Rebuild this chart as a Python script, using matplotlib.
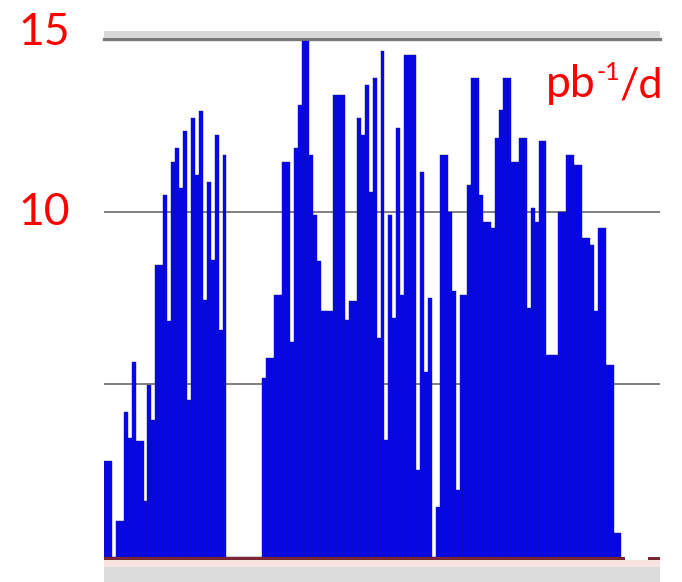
import matplotlib
matplotlib.use("Agg")
import matplotlib.pyplot as plt
from matplotlib.patches import Rectangle
import numpy as np

plt.rcParams['font.family'] = ['Lato', 'DejaVu Sans']

# daily delivered luminosity (pb^-1 per day), one value per day
group1 = [2.78, 2.78, 0, 1.04, 1.04, 4.20, 3.45, 5.65, 3.36, 3.36, 1.62, 4.98,
          3.97, 8.46, 8.46, 10.48, 6.83, 11.44, 11.84, 10.69, 12.34, 4.55,
          12.71, 11.06, 12.92, 7.44, 10.86, 8.60, 12.22, 6.57, 11.64]
pause = [0, 0, 0, 0, 0, 0, 0, 0, 0]
group2 = [5.18, 5.76, 5.76, 7.59, 7.59, 11.44, 11.44, 6.23, 11.84, 13.09,
          14.94, 14.94, 11.64, 9.90, 8.57, 7.12, 7.12, 7.12, 13.38, 13.38,
          13.38, 6.86, 7.41, 7.41, 12.71, 12.22, 13.67, 10.57, 13.87, 6.34,
          14.65, 3.39, 9.90, 6.92, 12.42, 7.59, 14.54, 14.54, 14.54, 2.52,
          11.15, 5.36, 7.50, 0]
group3 = [1.45, 11.64, 11.64, 9.99, 7.70, 1.94, 7.59, 7.59, 10.77, 13.87,
          13.87, 10.48, 9.70, 9.70, 9.53, 12.13, 12.95, 13.87, 13.87, 11.44,
          11.44, 12.13, 12.13, 7.21, 10.11, 9.70, 12.05, 12.05, 5.85, 5.85,
          5.85, 9.99, 9.99, 11.64, 11.64, 11.35, 11.35, 9.24, 9.24, 9.04,
          7.12, 9.53, 9.53, 5.56, 5.56, 0.70, 0.70]
lumi = group1 + pause + group2 + group3
days = np.arange(len(lumi))

y_labels = ["10", "15"]
unit_parts = ["pb", "-1", "/d"]

W, H = 682, 582
fig = plt.figure(figsize=(W / 100, H / 100), dpi=100)
fig.patch.set_facecolor("white")

x0, x1 = 104, 660
ytop, ybot = 39, 557
ax = fig.add_axes([x0 / W, 1 - ybot / H, (x1 - x0) / W, (ybot - ytop) / H])
ax.set_xlim(0, (x1 - x0) / 3.95)
ax.set_ylim(0, 15)
ax.axis("off")

# grid lines
for g in (5, 10):
    ax.axhline(g, color="#808080", lw=1.4, zorder=0)
ax.axhline(15, color="#7a7a7a", lw=2.4, zorder=0, clip_on=False)

ax.bar(days, lumi, width=1.0, align="edge", color="#0505f0",
       edgecolor="#16167e", linewidth=0.3, zorder=2)

# frame decorations (figure pixel coordinates)
def frect(px0, py0, px1, py1, color):
    fig.patches.append(Rectangle((px0 / W, 1 - py1 / H), (px1 - px0) / W,
                                 (py1 - py0) / H, transform=fig.transFigure,
                                 facecolor=color, edgecolor="none", zorder=0))

frect(104, 31, 660, 37.5, "#d9d9d9")
frect(104, 560, 660, 567, "#f7e3df")
frect(104, 567, 660, 582, "#dcdcdc")
frect(104, 557, 625, 560, "#7b2432")
frect(648, 557, 660, 560, "#7b2432")

red = "#ff0000"
fig.text(70 / W, 1 - 45 / H, y_labels[1], color=red, fontsize=32,
         ha="right", va="baseline")
fig.text(70 / W, 1 - 225 / H, y_labels[0], color=red, fontsize=32,
         ha="right", va="baseline")
fig.text(546 / W, 1 - 97 / H, unit_parts[0], color=red, fontsize=32,
         ha="left", va="baseline")
fig.text(596 / W, 1 - 80 / H, unit_parts[1], color=red, fontsize=18,
         ha="left", va="baseline")
fig.text(620 / W, 1 - 97 / H, unit_parts[2], color=red, fontsize=31,
         ha="left", va="baseline")

fig.savefig("out.png", dpi=100, facecolor="white")
